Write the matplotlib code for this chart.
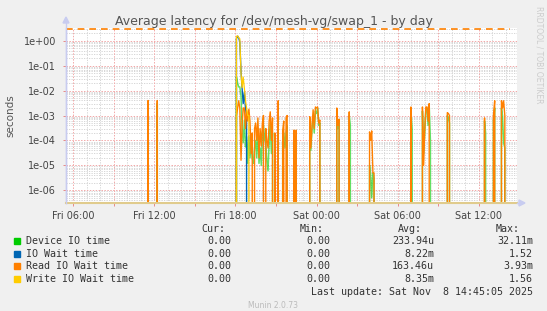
import matplotlib
matplotlib.use("Agg")
import matplotlib.pyplot as plt
import numpy as np
from matplotlib.ticker import FixedLocator
from matplotlib.patches import Polygon, Rectangle
from matplotlib.lines import Line2D

# ---------------- data (hours since Fri 00:00) ----------------
hours = [
    11.45, 11.55, 11.65,
    12.13, 12.23, 12.33,
    18.00, 18.08, 18.17, 18.25, 18.33, 18.42, 18.50, 18.58, 18.67, 18.75, 18.83, 18.92,
    19.00, 19.08, 19.17, 19.25, 19.33, 19.42, 19.50, 19.58, 19.67, 19.75, 19.83, 19.92,
    20.00, 20.08, 20.17, 20.25, 20.33, 20.42, 20.50, 20.58, 20.67, 20.75, 20.83, 20.92,
    21.00, 21.08, 21.17, 21.25, 21.42, 21.50, 21.58, 21.67, 21.75, 21.83, 21.92,
    22.25, 22.33, 22.42, 22.50, 22.58,
    23.42, 23.50, 23.58, 23.67, 23.75, 23.83, 23.92, 24.00, 24.08, 24.17, 24.25, 24.33,
    25.42, 25.50, 25.58, 25.67, 25.75,
    26.33, 26.42, 26.50, 26.58,
    27.83, 27.92, 28.00, 28.08, 28.17, 28.25, 28.33,
    30.90, 30.98, 31.07, 31.15,
    31.75, 31.83, 31.92, 32.00, 32.08, 32.17, 32.25, 32.33, 32.42, 32.50,
    33.58, 33.67, 33.75, 33.83, 33.92,
    36.33, 36.42, 36.50, 36.58,
    37.00, 37.08, 37.17, 37.25, 37.58, 37.67, 37.75, 37.83, 37.92, 38.00,
]
device_io = [
    0, 3e-3, 0,
    0, 3e-3, 0,
    0, 3.5e-2, 2e-2, 1.4e-2, 1.4e-2, 6e-3, 3.5e-4, 8e-5, 6.5e-4, 5.5e-5, 1.4e-4, 1.2e-5,
    1.5e-4, 2e-5, 8e-5, 2e-5, 1.2e-5, 5e-5, 1e-4, 2e-5, 3e-4, 1.2e-5, 5e-5, 1e-5,
    2e-4, 4e-4, 1e-4, 8e-5, 1.5e-5, 6e-6, 1e-4, 5e-4, 3e-5, 2e-4, 0, 1e-5,
    0, 0, 1e-3, 0, 0, 1e-4, 2e-4, 5e-5, 2e-4, 4e-4, 0,
    0, 1e-4, 0, 1.5e-4, 0,
    0, 5e-4, 4e-5, 3e-4, 1e-3, 2e-4, 1.5e-3, 1.2e-3, 2e-3, 4e-4, 5e-4, 0,
    0, 1.5e-3, 3e-4, 5e-4, 0,
    0, 1e-3, 4e-4, 0,
    0, 1e-5, 4e-6, 5e-7, 5e-6, 3e-6, 0,
    0, 1.5e-3, 3e-4, 0,
    0, 1.5e-3, 3e-5, 2e-4, 1.5e-3, 2e-3, 4e-4, 2.5e-3, 1e-4, 0,
    0, 1e-3, 8e-4, 5e-4, 0,
    0, 6e-4, 2e-4, 0,
    0, 6e-4, 2e-3, 0, 0, 2e-3, 1e-3, 8e-5, 5e-5, 0,
]
io_wait = [
    0, 0, 0,
    0, 0, 0,
    0, 1.2, 1.52, 1.3, 0.9, 6e-2, 1.2e-2, 3e-3, 9e-3, 2e-3, 1e-3, 0,
    0, 0, 0, 0, 0, 0, 0, 0, 0, 0, 0, 0,
    0, 0, 0, 0, 0, 0, 0, 0, 0, 0, 0, 0,
    0, 0, 0, 0, 0, 0, 0, 0, 0, 0, 0,
    0, 0, 0, 0, 0,
    0, 0, 0, 0, 0, 0, 0, 0, 0, 0, 0, 0,
    0, 0, 0, 0, 0,
    0, 0, 0, 0,
    0, 0, 0, 0, 0, 0, 0,
    0, 0, 0, 0,
    0, 0, 0, 0, 0, 0, 0, 0, 0, 0,
    0, 0, 0, 0, 0,
    0, 0, 0, 0,
    0, 0, 0, 0, 0, 0, 0, 0, 0, 0,
]
read_io_wait = [
    0, 4e-3, 0,
    0, 4e-3, 0,
    0, 9e-4, 2e-3, 3.9e-3, 2e-3, 1.6e-5, 4e-4, 2e-3, 2e-3, 3e-4, 1.6e-3, 6e-4,
    1.8e-3, 6e-4, 3e-5, 2e-4, 0, 3e-4, 5e-4, 1e-4, 8e-4, 2e-5, 3e-4, 6e-5,
    5e-4, 1e-3, 0, 3e-4, 1e-4, 5e-5, 6e-4, 1.4e-3, 1e-4, 8e-4, 0, 2e-4,
    0, 0, 3.9e-3, 0, 0, 2.5e-4, 6e-4, 0, 8e-4, 1e-3, 0,
    0, 2.6e-4, 0, 2.6e-4, 0,
    0, 9e-4, 5e-5, 4e-4, 1.7e-3, 3e-4, 2.2e-3, 2e-3, 2.2e-3, 5e-4, 6.5e-4, 0,
    0, 2e-3, 4e-4, 7e-4, 0,
    0, 1.4e-3, 0, 0,
    0, 2.2e-4, 1e-4, 2.4e-4, 5e-6, 5e-6, 0,
    0, 2.2e-3, 0, 0,
    0, 2.2e-3, 1e-5, 3e-4, 2.2e-3, 2.2e-3, 6e-4, 3e-3, 0, 0,
    0, 1.3e-3, 1.2e-3, 1e-3, 0,
    0, 8e-4, 0, 0,
    0, 1e-3, 3.9e-3, 0, 0, 3.9e-3, 2e-3, 3.9e-3, 1e-3, 0,
]
write_io_wait = [
    0, 0, 0,
    0, 0, 0,
    0, 1.5, 1.56, 1.3, 1.2, 5e-2, 1.3e-2, 3.5e-2, 1.2e-2, 4e-3, 2e-3, 1e-3,
    1e-3, 0, 0, 0, 0, 0, 0, 0, 0, 0, 0, 0,
    0, 0, 0, 0, 0, 0, 0, 0, 0, 0, 0, 0,
    0, 0, 0, 0, 0, 0, 0, 0, 0, 0, 0,
    0, 0, 0, 0, 0,
    0, 0, 0, 0, 0, 0, 0, 0, 0, 0, 0, 0,
    0, 0, 0, 0, 0,
    0, 0, 0, 0,
    0, 0, 0, 0, 0, 0, 0,
    0, 0, 0, 0,
    0, 0, 0, 0, 0, 0, 0, 0, 0, 0,
    0, 0, 0, 0, 0,
    0, 0, 0, 0,
    0, 0, 0, 0, 0, 0, 0, 0, 0, 0,
]

series_names = ["Device IO time", "IO Wait time", "Read IO Wait time", "Write IO Wait time"]
series_colors = ["#00CC00", "#0066B3", "#FF8000", "#FFCC00"]
cur_vals = ["0.00", "0.00", "0.00", "0.00"]
min_vals = ["0.00", "0.00", "0.00", "0.00"]
avg_vals = ["233.94u", "8.22m", "163.46u", "8.35m"]
max_vals = ["32.11m", "1.52", "3.93m", "1.56"]

x_tick_pos = [6, 12, 18, 24, 30, 36]
x_tick_labels = ["Fri 06:00", "Fri 12:00", "Fri 18:00", "Sat 00:00", "Sat 06:00", "Sat 12:00"]
y_tick_pos = [1e0, 1e-1, 1e-2, 1e-3, 1e-4, 1e-5, 1e-6]
y_tick_labels = ["1e+00", "1e-01", "1e-02", "1e-03", "1e-04", "1e-05", "1e-06"]
limit_value = 10 ** 0.47

# ---------------- figure ----------------
W, H = 547, 311
fig = plt.figure(figsize=(W / 100, H / 100), dpi=100, facecolor="#F0F0F0")

def fx(px):
    return px / W

def fy(py):
    return 1 - py / H

ax = fig.add_axes([fx(66), fy(203), (517 - 66) / W, (203 - 28) / H])
ax.set_facecolor("white")
ax.set_yscale("log", nonpositive="clip")
ax.set_xlim(5.483, 38.82)
ax.set_ylim(10 ** -6.51, 10 ** 0.51)

# grid
minor_c = "#D0D0D0"
major_c = "#F2A8A8"
for h in np.arange(5, 39, 1):
    if h % 3 != 0:
        ax.axvline(h, color=minor_c, lw=0.6, ls=(0, (1.5, 1.5)), zorder=0)
for dec in range(-7, 1):
    for m in range(2, 10):
        ax.axhline(m * 10.0 ** dec, color=minor_c, lw=0.6, ls=(0, (1.5, 1.5)), zorder=0)
for h in np.arange(6, 39, 3):
    ax.axvline(h, color=major_c, lw=0.7, ls=(0, (1.5, 1.5)), zorder=0.5)
for v in y_tick_pos:
    ax.axhline(v, color=major_c, lw=0.7, ls=(0, (1.5, 1.5)), zorder=0.5)

# series
t = np.array(hours)
all_series = [device_io, io_wait, read_io_wait, write_io_wait]
widths = [1.1, 1.0, 1.0, 0.9]
alphas = [0.6, 1.0, 1.0, 1.0]
for vals, col, lw, al in zip(all_series, series_colors, widths, alphas):
    ax.plot(t, np.array(vals, dtype=float), color=col, lw=lw, alpha=al, zorder=2)

ax.axhline(limit_value, xmax=0.985, color="#FF8000", lw=1.2, ls=(0, (4, 3)), zorder=3, clip_on=False)

# axes styling
for s in ["top", "right"]:
    ax.spines[s].set_visible(False)
ax.spines["left"].set_color("#C8CCF0")
ax.spines["left"].set_linewidth(1.0)
ax.spines["bottom"].set_color("#E0CB8C")
ax.spines["bottom"].set_linewidth(1.5)
ax.spines["bottom"].set_zorder(4)

ax.xaxis.set_major_locator(FixedLocator(x_tick_pos))
ax.set_xticklabels(x_tick_labels)
ax.xaxis.set_minor_locator(FixedLocator([h for h in range(6, 39, 3) if h % 6 != 0]))
ax.yaxis.set_major_locator(FixedLocator(y_tick_pos))
ax.set_yticklabels(y_tick_labels)
ax.yaxis.set_minor_locator(FixedLocator([]))
ax.tick_params(axis="both", which="both", direction="out", length=2, width=0.7,
               color="#E88888", labelsize=7, labelcolor="#444444", pad=4)
ax.tick_params(axis="y", pad=5)

# arrows
fig.add_artist(Polygon([[fx(63), fy(23)], [fx(69), fy(23)], [fx(66), fy(17)]],
                       closed=True, transform=fig.transFigure, color="#C8CCF0"))
fig.add_artist(Line2D([fx(66), fx(66)], [fy(203), fy(23)], transform=fig.transFigure,
                      color="#C8CCF0", lw=1.0))
fig.add_artist(Line2D([fx(517), fx(519)], [fy(203), fy(203)], transform=fig.transFigure,
                      color="#C8CCF0", lw=1.0))
fig.add_artist(Polygon([[fx(519), fy(200)], [fx(519), fy(206)], [fx(525), fy(203)]],
                       closed=True, transform=fig.transFigure, color="#C8CCF0"))

# title and labels
fig.text(0.5, fy(21), "Average latency for /dev/mesh-vg/swap_1 - by day",
         ha="center", va="center", fontsize=9, color="#555555")
fig.text(fx(10), fy(116), "seconds", rotation=90, ha="center", va="center",
         fontsize=7.5, color="#555555")
fig.text(fx(539), fy(6), "RRDTOOL / TOBI OETIKER", rotation=270, ha="center", va="top",
         fontsize=5.5, color="#CCCCCC")

# legend
mono = "DejaVu Sans Mono"
fs = 7.2
tc = "#333333"
fig.text(fx(225), fy(229), "Cur:", ha="right", va="center", family=mono, fontsize=fs, color=tc)
fig.text(fx(324), fy(229), "Min:", ha="right", va="center", family=mono, fontsize=fs, color=tc)
fig.text(fx(422), fy(229), "Avg:", ha="right", va="center", family=mono, fontsize=fs, color=tc)
fig.text(fx(520), fy(229), "Max:", ha="right", va="center", family=mono, fontsize=fs, color=tc)
rows_y = [241, 254, 266, 279]
for i in range(4):
    y = rows_y[i]
    fig.add_artist(Rectangle((fx(14), fy(y + 3)), 6 / W, 6 / H, transform=fig.transFigure,
                             color=series_colors[i]))
    fig.text(fx(26), fy(y), series_names[i], ha="left", va="center", family=mono, fontsize=fs, color=tc)
    fig.text(fx(231), fy(y), cur_vals[i], ha="right", va="center", family=mono, fontsize=fs, color=tc)
    fig.text(fx(330), fy(y), min_vals[i], ha="right", va="center", family=mono, fontsize=fs, color=tc)
    fig.text(fx(434), fy(y), avg_vals[i], ha="right", va="center", family=mono, fontsize=fs, color=tc)
    fig.text(fx(533), fy(y), max_vals[i], ha="right", va="center", family=mono, fontsize=fs, color=tc)
fig.text(fx(533), fy(292), "Last update: Sat Nov  8 14:45:05 2025", ha="right", va="center",
         family=mono, fontsize=fs, color=tc)
fig.text(0.5, fy(305), "Munin 2.0.73", ha="center", va="center", fontsize=5.5, color="#BBBBBB")

fig.savefig("out.png", dpi=100, facecolor=fig.get_facecolor())
